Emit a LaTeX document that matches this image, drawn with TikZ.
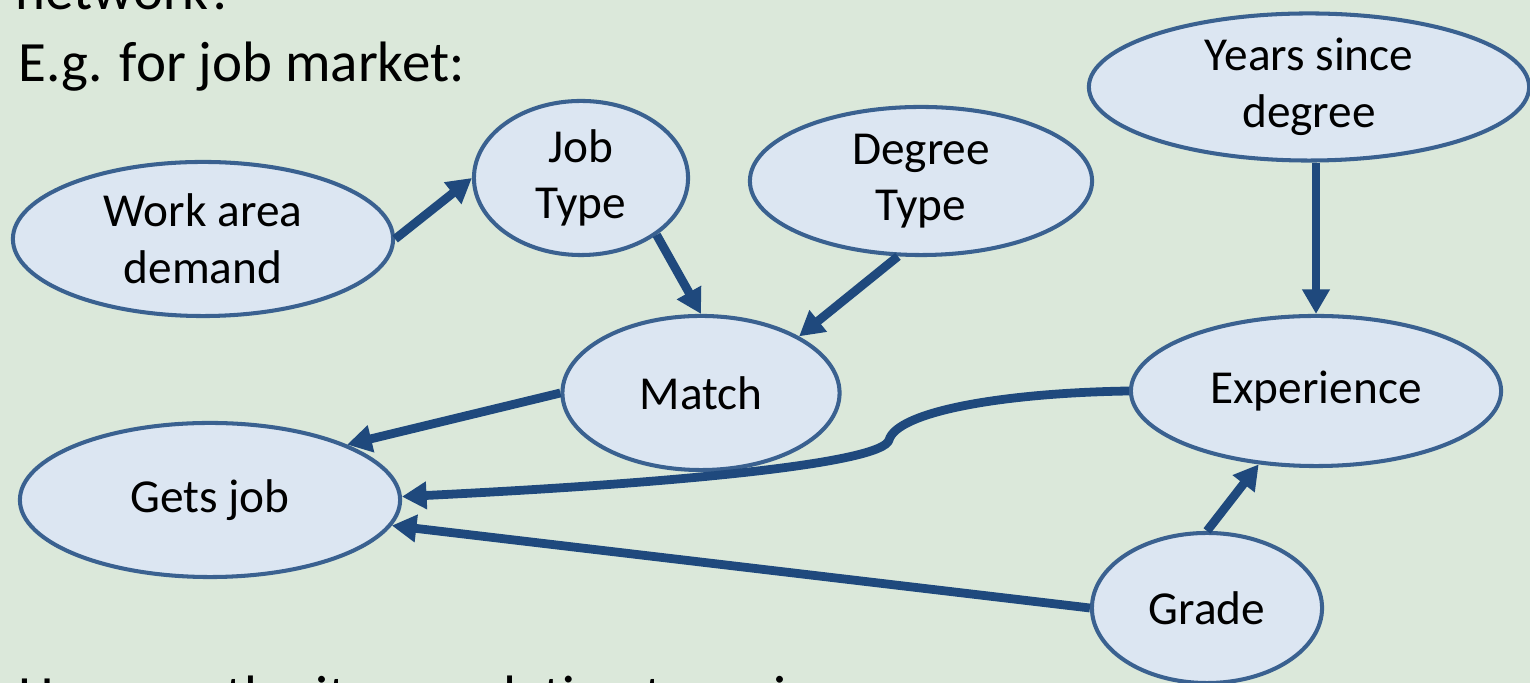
\documentclass[tikz,border=0pt]{standalone}
\usepackage{fontspec}
\setmainfont{Carlito}
\usetikzlibrary{shapes.geometric,arrows.meta}
\definecolor{bgc}{HTML}{DBE8DA}
\definecolor{nodefill}{HTML}{DCE6F2}
\definecolor{nodeline}{HTML}{3A6190}
\definecolor{arrowc}{HTML}{1F497D}
\tikzset{
  bn/.style={ellipse, draw=nodeline, fill=nodefill, line width=1.15pt, inner sep=0pt, align=center,
    font=\fontsize{13.45}{16.1}\selectfont},
  conn/.style={draw=arrowc, line width=2.5pt, -{Triangle[length=7pt,width=7.5pt]}},
  headtext/.style={font=\fontsize{16.2}{19.5}\selectfont, inner sep=0pt}
}
\begin{document}
\begin{tikzpicture}[x=0.01cm,y=-0.01cm]
\useasboundingbox (0,0) rectangle (1530,683);
\fill[bgc] (0,0) rectangle (1530,683);
\clip (0,0) rectangle (1530,683);
% header text (cut off at the edges as in the reference)
\node[headtext, anchor=base west] (t0) at (15,10) {network?};
\node[headtext, anchor=base west] (t1) at (18,82) {E.g. for job market:};
\node[headtext, anchor=base west] (t2) at (18,716) {How are the items relating to a given};
% nodes
\node[bn, minimum width=3.80cm, minimum height=1.54cm] (wad) at (203,239) {Work area\\demand};
\node[bn, minimum width=2.14cm, minimum height=1.54cm] (job) at (581,178) {Job\\Type};
\node[bn, minimum width=3.42cm, minimum height=1.48cm] (deg) at (921,181) {Degree\\Type};
\node[bn, minimum width=4.40cm, minimum height=1.47cm] (yrs) at (1309,87) {Years since\\degree};
\node[bn, minimum width=2.77cm, minimum height=1.54cm] (mat) at (701,393) {Match};
\node[bn, minimum width=3.70cm, minimum height=1.50cm] (exp) at (1316,391) {Experience};
\node[bn, minimum width=3.80cm, minimum height=1.54cm] (gets) at (210,500) {Gets job};
\node[bn, minimum width=2.30cm, minimum height=1.50cm] (gra) at (1207,608) {Grade};
% connectors
\draw[conn] (wad.east) -- (job.west);
\draw[conn] (job.-37) -- (mat.north);
\draw[conn] (deg.-107) -- (mat.30);
\draw[conn] (exp.north |- yrs.south) -- (exp.north);
\draw[conn] (mat.west) -- (gets.22);
\draw[conn] (exp.west) .. controls (1000,393) and (897,412) .. (889,440)
  .. controls (883,462) and (700,482) .. (gets.1);
\draw[conn] (gra.west) -- (gets.-8);
\draw[conn] (gra.north) -- (exp.-128);
\end{tikzpicture}
\end{document}
